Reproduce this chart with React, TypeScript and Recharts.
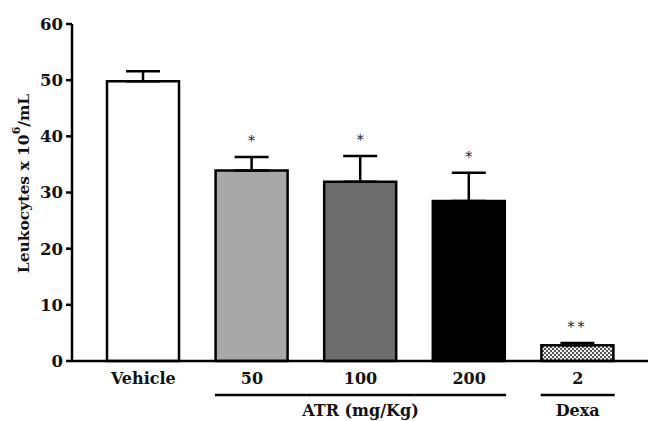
import React from "react";
import {
  BarChart,
  Bar,
  XAxis,
  YAxis,
  Cell,
  ErrorBar,
  LabelList,
} from "recharts";

// tick labels under the bars and the bracket groups below them
const categories = ["Vehicle", "50", "100", "200", "2"];
const groups = ["", "ATR (mg/Kg)", "ATR (mg/Kg)", "ATR (mg/Kg)", "Dexa"];

// leukocytes x 10^6/mL, mean and SEM (upper side only)
const means = [49.8, 33.9, 31.9, 28.5, 2.8];
const sems = [1.8, 2.4, 4.6, 5.0, 0.4];
const marks = ["", "*", "*", "*", "**"];

const fills = ["#ffffff", "#a8a8a8", "#6d6d6d", "#000000", "url(#dexaHatch)"];
const yTicks = [0, 10, 20, 30, 40, 50, 60];

const data = categories.map((name, i) => ({
  name,
  group: groups[i],
  value: means[i],
  err: [0, sems[i]],
  mark: marks[i],
}));

const FONT = "'DejaVu Serif', 'Liberation Serif', serif";

function XTick(props: any) {
  const { x, y, payload, index } = props;
  const half = payload && payload.offset ? payload.offset : 54;
  const g = groups[index];
  const prev = index > 0 ? groups[index - 1] : "";
  const next = index < groups.length - 1 ? groups[index + 1] : "";
  const barHalf = 37;
  let line = null;
  if (g) {
    const x1 = prev === g ? x - half : x - barHalf;
    const x2 = next === g ? x + half : x + barHalf;
    line = <line x1={x1} x2={x2} y1={y + 34} y2={y + 34} stroke="#000" strokeWidth={2.5} />;
  }
  // group title goes under the middle member of the group
  const members = groups.map((v, i) => (v === g ? i : -1)).filter((i) => i >= 0);
  const mid = members[Math.floor((members.length - 1) / 2)];
  const showTitle = g && mid === index;
  return (
    <g>
      <text x={x} y={y + 23} textAnchor="middle" fontFamily={FONT} fontWeight="bold" fontSize={16} fill="#111">
        {payload.value}
      </text>
      {line}
      {showTitle ? (
        <text x={x} y={y + 55} textAnchor="middle" fontFamily={FONT} fontWeight="bold" fontSize={16} fill="#111">
          {g}
        </text>
      ) : null}
    </g>
  );
}

function YLabel(props: any) {
  const { viewBox } = props;
  const cx = viewBox.x + 23;
  const cy = viewBox.y + viewBox.height / 2 - 9;
  return (
    <text
      x={cx}
      y={cy}
      transform={`rotate(-90 ${cx} ${cy})`}
      textAnchor="middle"
      dominantBaseline="central"
      fontFamily={FONT}
      fontWeight="bold"
      fontSize={15.5}
      fill="#111"
    >
      Leukocytes x 10
      <tspan dy={-7} fontSize={11}>6</tspan>
      <tspan dy={7}>/mL</tspan>
    </text>
  );
}

function StarLabel(props: any) {
  const { x, y, width, height, value, index } = props;
  if (!value) return null;
  const capY = y - (sems[index] / means[index]) * height;
  return (
    <text
      x={x + width / 2}
      y={capY - 11}
      textAnchor="middle"
      fontFamily={FONT}
      fontSize={14}
      letterSpacing={value.length > 1 ? 3 : 0}
      fill="#222"
    >
      {value}
    </text>
  );
}

export default function App() {
  return (
    <div style={{ position: "fixed", left: 0, top: 0, background: "#fff" }}>
      <BarChart
        width={648}
        height={421}
        data={data}
        margin={{ top: 24, right: 0, bottom: 0, left: 0 }}
        barCategoryGap={0}
      >
        <defs>
          <pattern id="dexaHatch" width={4} height={4} patternUnits="userSpaceOnUse">
            <rect width={4} height={4} fill="#f2f2f2" />
            <rect x={0} y={0} width={2} height={2} fill="#555" />
            <rect x={2} y={2} width={2} height={2} fill="#555" />
          </pattern>
        </defs>
        <XAxis
          dataKey="name"
          height={60}
          padding={{ left: 17, right: 16 }}
          axisLine={{ stroke: "#000", strokeWidth: 2.5 }}
          tickLine={false}
          tickSize={0}
          tickMargin={0}
          interval={0}
          tick={<XTick />}
        />
        <YAxis
          width={72}
          domain={[0, 60]}
          ticks={yTicks}
          interval={0}
          axisLine={{ stroke: "#000", strokeWidth: 2.5 }}
          tickLine={{ stroke: "#000", strokeWidth: 2.5 }}
          tickSize={6}
          tickMargin={3}
          tick={{ fontFamily: FONT, fontWeight: "bold", fontSize: 16.5, fill: "#111" }}
          label={<YLabel />}
        />
        <Bar dataKey="value" barSize={72} stroke="#000" strokeWidth={2.5} isAnimationActive={false}>
          {data.map((d, i) => (
            <Cell key={d.name} fill={fills[i]} />
          ))}
          <ErrorBar dataKey="err" width={17} stroke="#000" strokeWidth={2.5} direction="y" />
          <LabelList dataKey="mark" content={<StarLabel />} />
        </Bar>
      </BarChart>
    </div>
  );
}
